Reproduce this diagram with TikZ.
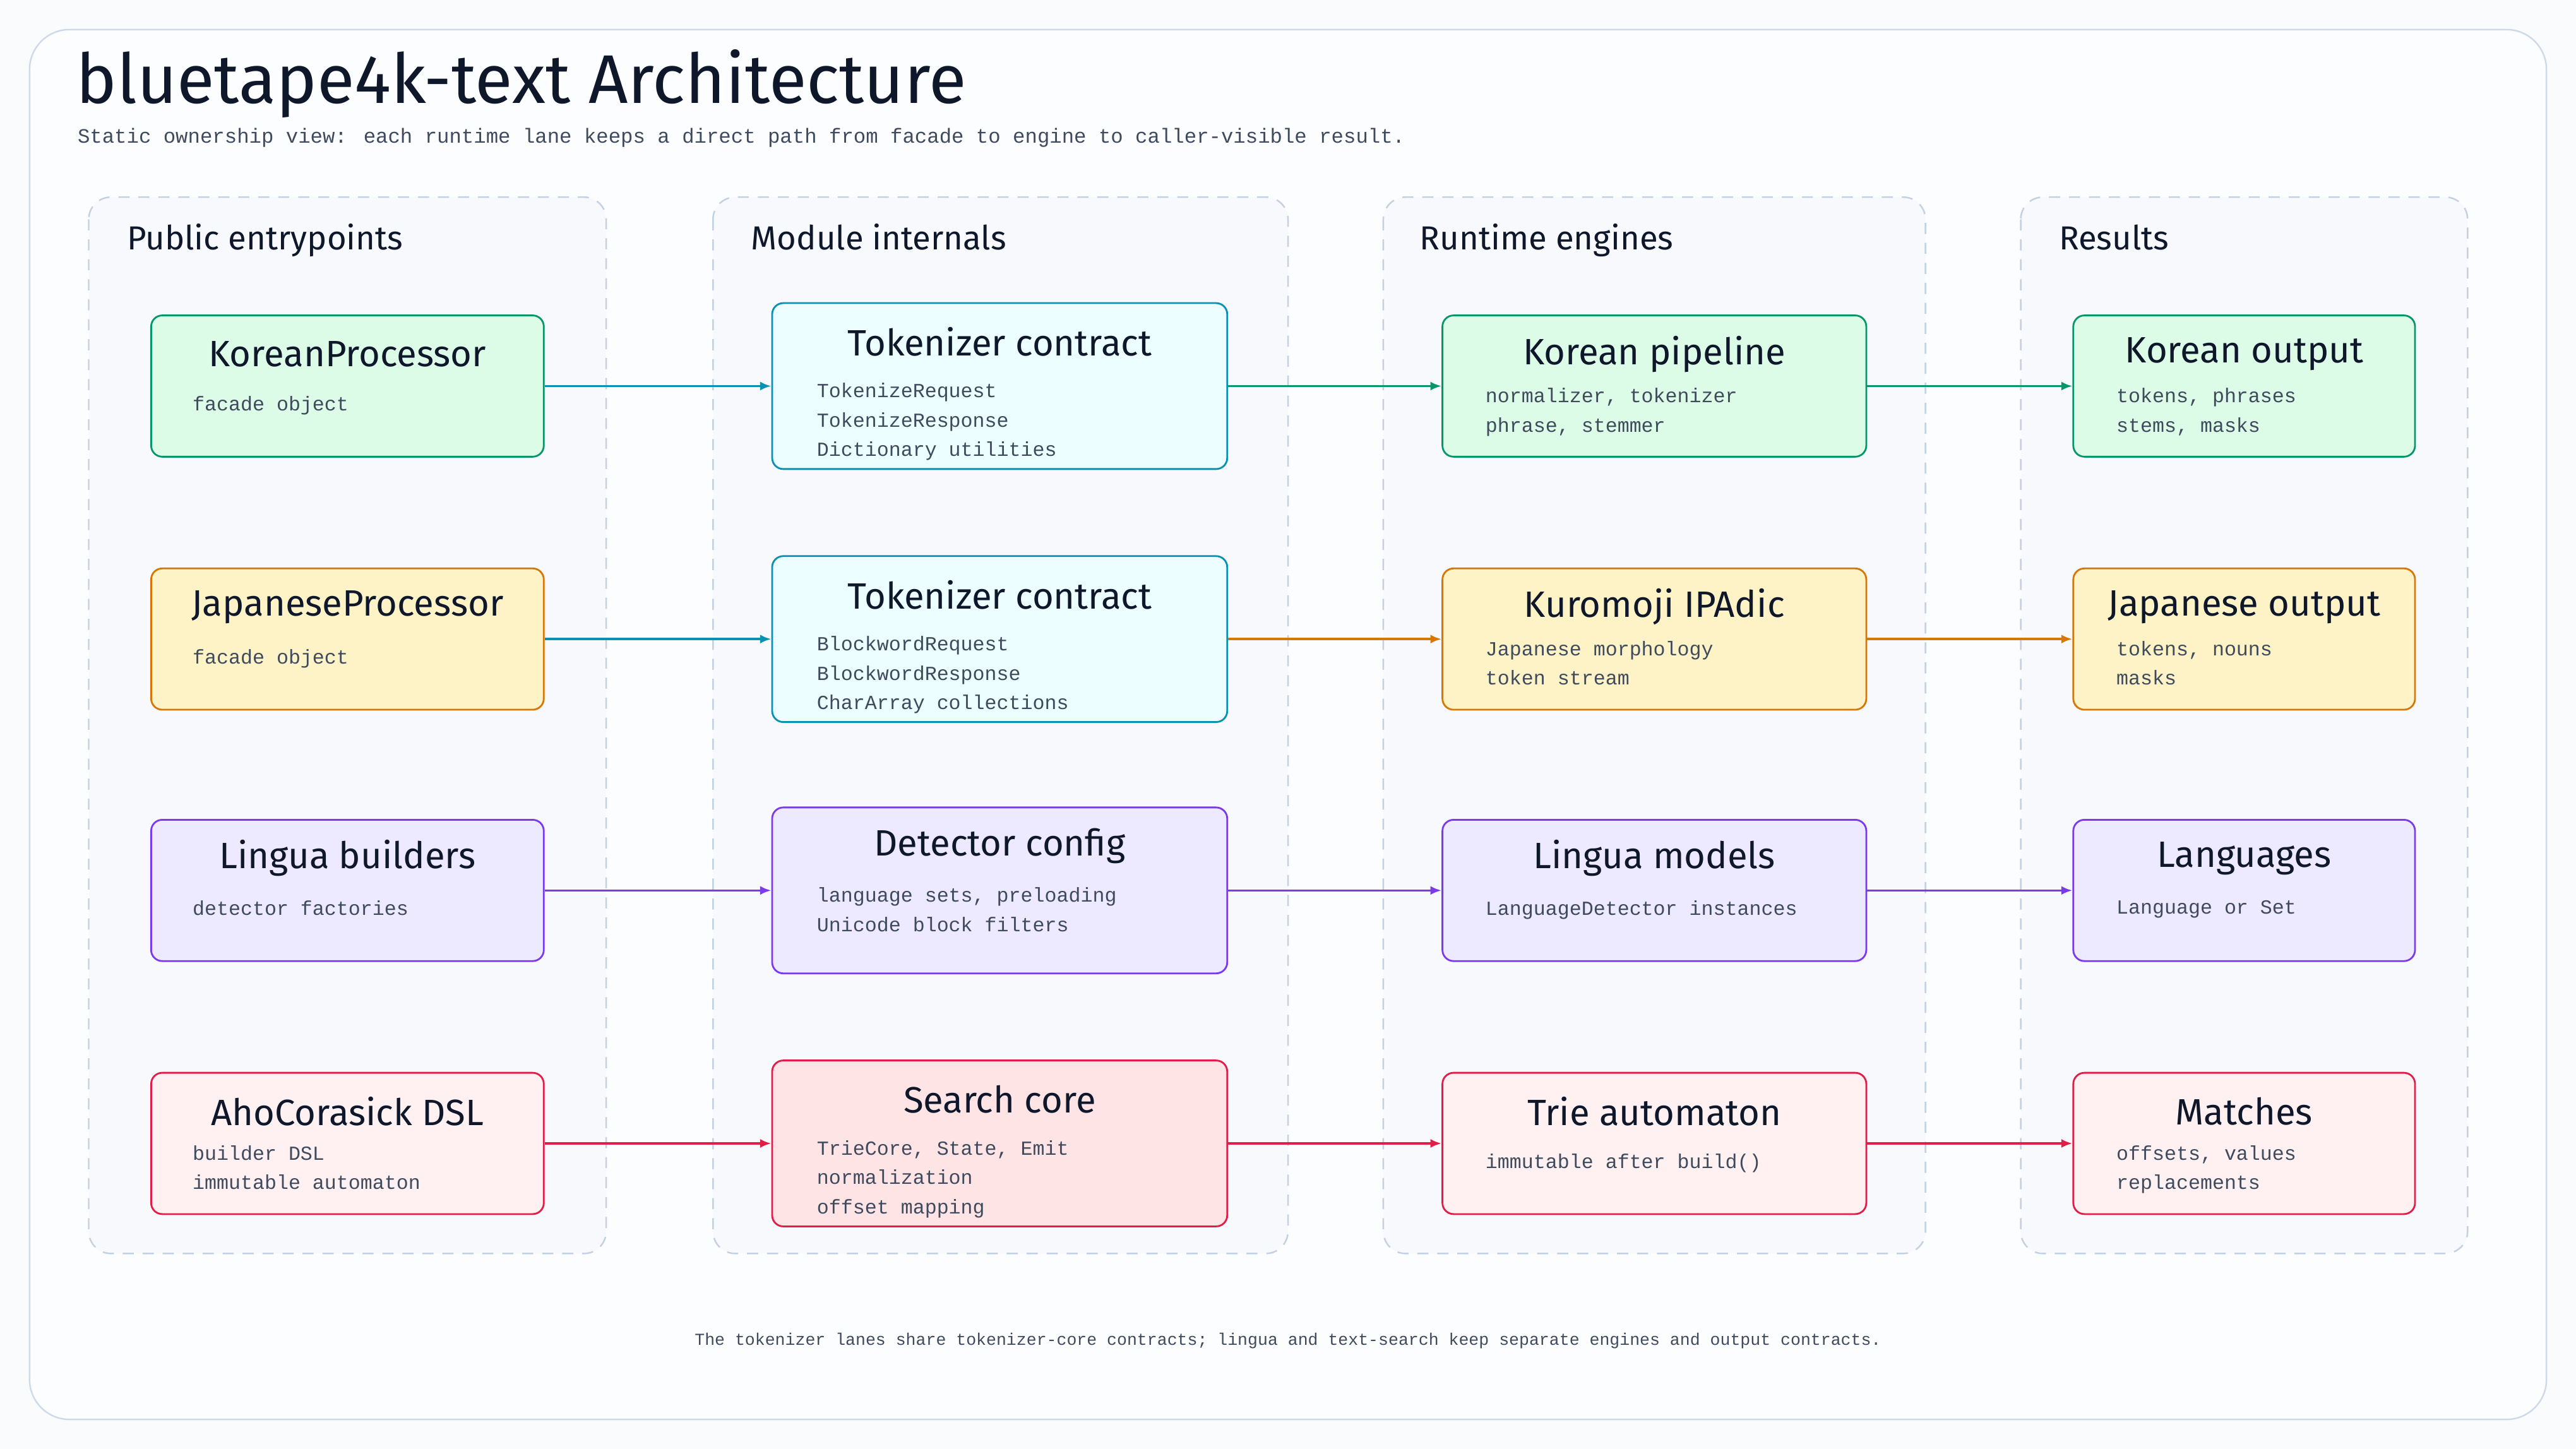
\documentclass[tikz,border=0pt]{standalone}
\usepackage{fontspec}
\setmainfont{Fira Sans}
\newfontfamily\monofont{Liberation Mono}
\usetikzlibrary{arrows.meta}
\definecolor{ink}{HTML}{0F172A}
\definecolor{sub}{HTML}{3F4A5C}
\definecolor{lanefill}{HTML}{F7F9FC}
\definecolor{laneline}{HTML}{C3D1E2}
\definecolor{grnD}{HTML}{059669}\definecolor{grnF}{HTML}{DCFCE7}
\definecolor{cyaD}{HTML}{0891B2}\definecolor{cyaF}{HTML}{ECFEFF}
\definecolor{ylwD}{HTML}{D97706}\definecolor{ylwF}{HTML}{FEF3C7}
\definecolor{vioD}{HTML}{7C3AED}\definecolor{vioF}{HTML}{EDE9FE}
\definecolor{redD}{HTML}{E11D48}\definecolor{redF}{HTML}{FFF1F2}\definecolor{redG}{HTML}{FFE4E6}

\tikzset{
  box/.style={draw, rounded corners=5pt, line width=0.8pt, minimum height={86*0.02602cm}},
  wide/.style={box, minimum width={239*0.02602cm}},
  mid/.style={box, minimum width={277*0.02602cm}, minimum height={101*0.02602cm}},
  eng/.style={box, minimum width={258*0.02602cm}},
  res/.style={box, minimum width={208*0.02602cm}},
  head/.style={font=\fontsize{16.5}{18}\selectfont, text=ink},
  lane/.style={draw=laneline, fill=lanefill, dashed, dash pattern=on 5pt off 4pt, rounded corners=10pt, line width=0.7pt},
  detail/.style={font=\monofont\fontsize{9}{13.2}\selectfont, text=sub, align=left, anchor=north west, inner sep=0pt},
  lanehead/.style={font=\fontsize{15}{17}\selectfont, text=ink, anchor=base west, inner sep=0pt},
  flow/.style={-{Latex[length=5pt,width=4pt]}, line width=1pt}
}

\begin{document}
\begin{tikzpicture}[x=0.02602cm, y=-0.02602cm]
\useasboundingbox[fill=lanefill!70!white] (0,0) rectangle (1568,882);
\draw[fill=white!60!lanefill, draw=laneline!80!white, rounded corners=18pt, line width=0.7pt] (18,18) rectangle (1550,864);

% title
\node[anchor=base west, inner sep=0pt, font=\fontsize{31}{33}\selectfont, text=ink] (title) at (46,63) {bluetape4k-text Architecture};
\node[anchor=west, inner sep=0pt, font=\monofont\fontsize{9.2}{11}\selectfont, text=sub] (subtitle) at (47,84) {Static ownership view: each runtime lane keeps a direct path from facade to engine to caller-visible result.};

% lanes
\draw[lane] (54,120) rectangle (369,763);
\draw[lane] (434,120) rectangle (784,763);
\draw[lane] (842,120) rectangle (1172,763);
\draw[lane] (1230,120) rectangle (1502,763);
\node[lanehead] (h1) at (77,152) {Public entrypoints};
\node[lanehead] (h2) at (457,152) {Module internals};
\node[lanehead] (h3) at (864,152) {Runtime engines};
\node[lanehead] (h4) at (1253,152) {Results};

% row 1
\node[wide, draw=grnD, fill=grnF] (kp) at (211.5,235) {};
\node[mid, draw=cyaD, fill=cyaF] (tc1) at (608.5,235) {};
\node[eng, draw=grnD, fill=grnF] (kpipe) at (1007,235) {};
\node[res, draw=grnD, fill=grnF] (kout) at (1366,235) {};
\node[head] at ([yshift=-24*0.02602cm]kp.north) {KoreanProcessor};
\node[detail] at (117,241) {facade object};
\node[head] at ([yshift=-24*0.02602cm]tc1.north) {Tokenizer contract};
\node[detail] at (497,233) {TokenizeRequest\\TokenizeResponse\\Dictionary utilities};
\node[head] at ([yshift=-24*0.02602cm]kpipe.north) {Korean pipeline};
\node[detail] at (904,236) {normalizer, tokenizer\\phrase, stemmer};
\node[head] at ([yshift=-24*0.02602cm]kout.north) {Korean output};
\node[detail] at (1288,236) {tokens, phrases\\stems, masks};

% row 2
\node[wide, draw=ylwD, fill=ylwF] (jp) at (211.5,389) {};
\node[mid, draw=cyaD, fill=cyaF] (tc2) at (608.5,389) {};
\node[eng, draw=ylwD, fill=ylwF] (kuro) at (1007,389) {};
\node[res, draw=ylwD, fill=ylwF] (jout) at (1366,389) {};
\node[head] at ([yshift=-24*0.02602cm]jp.north) {JapaneseProcessor};
\node[detail] at (117,395) {facade object};
\node[head] at ([yshift=-24*0.02602cm]tc2.north) {Tokenizer contract};
\node[detail] at (497,387) {BlockwordRequest\\BlockwordResponse\\CharArray collections};
\node[head] at ([yshift=-24*0.02602cm]kuro.north) {Kuromoji IPAdic};
\node[detail] at (904,390) {Japanese morphology\\token stream};
\node[head] at ([yshift=-24*0.02602cm]jout.north) {Japanese output};
\node[detail] at (1288,390) {tokens, nouns\\masks};

% row 3
\node[wide, draw=vioD, fill=vioF] (lb) at (211.5,542) {};
\node[mid, draw=vioD, fill=vioF] (dc) at (608.5,542) {};
\node[eng, draw=vioD, fill=vioF] (lm) at (1007,542) {};
\node[res, draw=vioD, fill=vioF] (lang) at (1366,542) {};
\node[head] at ([yshift=-24*0.02602cm]lb.north) {Lingua builders};
\node[detail] at (117,548) {detector factories};
\node[head] at ([yshift=-24*0.02602cm]dc.north) {Detector config};
\node[detail] at (497,540) {language sets, preloading\\Unicode block filters};
\node[head] at ([yshift=-24*0.02602cm]lm.north) {Lingua models};
\node[detail] at (904,548) {LanguageDetector instances};
\node[head] at ([yshift=-24*0.02602cm]lang.north) {Languages};
\node[detail] at (1288,548) {Language or Set};

% row 4
\node[wide, draw=redD, fill=redF] (ac) at (211.5,696) {};
\node[mid, draw=redD, fill=redG] (sc) at (608.5,696) {};
\node[eng, draw=redD, fill=redF] (trie) at (1007,696) {};
\node[res, draw=redD, fill=redF] (match) at (1366,696) {};
\node[head] at ([yshift=-24*0.02602cm]ac.north) {AhoCorasick DSL};
\node[detail] at (117,697) {builder DSL\\immutable automaton};
\node[head] at ([yshift=-24*0.02602cm]sc.north) {Search core};
\node[detail] at (497,694) {TrieCore, State, Emit\\normalization\\offset mapping};
\node[head] at ([yshift=-24*0.02602cm]trie.north) {Trie automaton};
\node[detail] at (904,702) {immutable after build()};
\node[head] at ([yshift=-24*0.02602cm]match.north) {Matches};
\node[detail] at (1288,697) {offsets, values\\replacements};

% flows
\draw[flow, cyaD] (kp) -- (tc1);
\draw[flow, grnD] (tc1) -- (kpipe);
\draw[flow, grnD] (kpipe) -- (kout);
\draw[flow, cyaD] (jp) -- (tc2);
\draw[flow, ylwD] (tc2) -- (kuro);
\draw[flow, ylwD] (kuro) -- (jout);
\draw[flow, vioD] (lb) -- (dc);
\draw[flow, vioD] (dc) -- (lm);
\draw[flow, vioD] (lm) -- (lang);
\draw[flow, redD] (ac) -- (sc);
\draw[flow, redD] (sc) -- (trie);
\draw[flow, redD] (trie) -- (match);

% footer
\node[font=\monofont\fontsize{7.55}{9}\selectfont, text=sub] (note) at (784,816) {The tokenizer lanes share tokenizer-core contracts; lingua and text-search keep separate engines and output contracts.};
\end{tikzpicture}
\end{document}
